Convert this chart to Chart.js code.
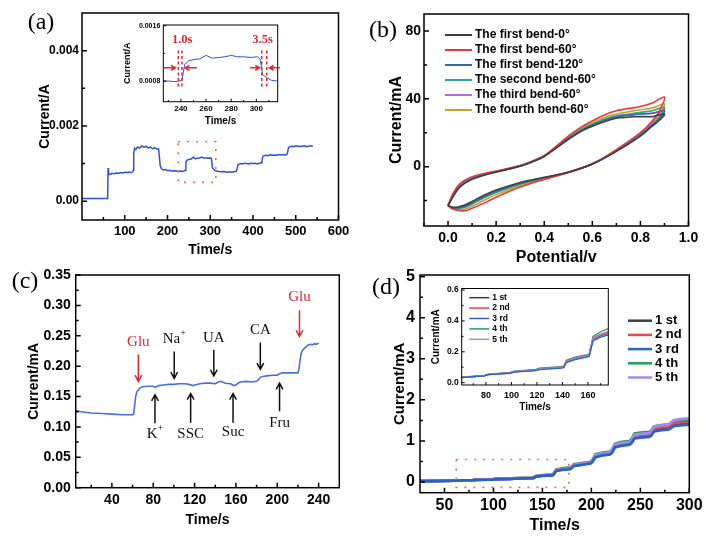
<!DOCTYPE html>
<html>
<head>
<meta charset="utf-8">
<script src="https://cdn.jsdelivr.net/npm/chart.js@4.4.1/dist/chart.umd.min.js"></script>
<style>
  html, body { margin: 0; padding: 0; background: #fff; }
  #wrap { position: relative; width: 713px; height: 541px; overflow: hidden; }
  canvas { position: absolute; left: 0; top: 0; }
</style>
</head>
<body>
<div id="wrap">
  <canvas id="ca" width="713" height="541"></canvas>
  <canvas id="cai" width="713" height="541"></canvas>
  <canvas id="cb" width="713" height="541"></canvas>
  <canvas id="cc" width="713" height="541"></canvas>
  <canvas id="cd" width="713" height="541"></canvas>
  <canvas id="cdi" width="713" height="541"></canvas>
</div>
<script>
// ---- (a) amperometric steps ----
const timeA = [
  0, 30, 60, 61, 62, 64, 67, 70, 75, 80, 85, 90, 95, 100, 105, 110, 115, 119,
  120, 121, 123, 126, 130, 135, 140, 145, 150, 155, 160, 165, 170, 175, 179,
  181, 183, 186, 190, 195, 200, 205, 210, 215, 220, 225, 230, 235, 239,
  241, 243, 246, 250, 255, 260, 265, 270, 275, 280, 285, 290, 295, 301,
  303, 305, 308, 312, 316, 320, 325, 330, 335, 340, 345, 350, 355, 361,
  363, 365, 368, 372, 376, 380, 385, 390, 395, 400, 405, 410, 415, 419,
  421, 423, 426, 430, 435, 440, 445, 450, 455, 460, 465, 470, 475, 479,
  481, 483, 486, 490, 495, 500, 505, 510, 515, 520, 525, 530, 535, 540
];
const currentA = [
  0.00007, 0.00007, 0.00007, 0.00088, 0.00070, 0.00072, 0.00071, 0.00074, 0.00073, 0.00075, 0.00074, 0.00076, 0.00075, 0.00077, 0.00076, 0.00077, 0.00076, 0.00078,
  0.00082, 0.00128, 0.00141, 0.00137, 0.00144, 0.00141, 0.00147, 0.00143, 0.00146, 0.00141, 0.00144, 0.00139, 0.00142, 0.00138, 0.00139,
  0.00118, 0.00094, 0.00086, 0.00083, 0.00084, 0.00081, 0.00082, 0.00080, 0.00081, 0.00080, 0.00079, 0.00080, 0.00079, 0.00080,
  0.00082, 0.00104, 0.00109, 0.00111, 0.00112, 0.00117, 0.00113, 0.00114, 0.00115, 0.00117, 0.00115, 0.00115, 0.00114, 0.00115,
  0.00112, 0.00089, 0.00085, 0.00081, 0.00080, 0.00079, 0.00078, 0.00079, 0.00078, 0.00077, 0.00078, 0.00077, 0.00078, 0.00079,
  0.00088, 0.00097, 0.00099, 0.00100, 0.00099, 0.00101, 0.00100, 0.00099, 0.00101, 0.00100, 0.00101, 0.00099, 0.00101, 0.00102,
  0.00107, 0.00119, 0.00121, 0.00122, 0.00121, 0.00123, 0.00122, 0.00123, 0.00122, 0.00124, 0.00123, 0.00124, 0.00123, 0.00124,
  0.00130, 0.00142, 0.00145, 0.00146, 0.00145, 0.00147, 0.00146, 0.00145, 0.00146, 0.00147, 0.00145, 0.00146, 0.00147, 0.00146
];
const xTicksA = [100, 200, 300, 400, 500, 600];
const yTicksA = [0, 0.002, 0.004];
const yLabelsA = ["0.00", "0.002", "0.004"];
const xTicksAi = [240, 260, 280, 300];
const yTicksAi = [0.0008, 0.0016];

// ---- (b) cyclic voltammetry after bending ----
const potentialB = [0, 0.02, 0.05, 0.1, 0.15, 0.2, 0.3, 0.35, 0.4, 0.45, 0.5, 0.55, 0.6, 0.65, 0.7, 0.8, 0.85, 0.9,
  0.88, 0.85, 0.8, 0.7, 0.6, 0.5, 0.4, 0.3, 0.2, 0.15, 0.1, 0.07, 0.04, 0.02, 0];
const bendLabels = ["The first bend-0°", "The first bend-60°", "The first bend-120°",
  "The second bend-60°", "The third bend-60°", "The fourth bend-60°"];
const bend1_0 = [-23, -18, -12, -7.5, -5, -3.2, 0.3, 2.8, 6, 11, 16, 20.5, 23.8, 26.5, 28.5, 29.5, 29.5, 31,
  27.5, 24, 18, 9, 1.5, -3.3, -6.3, -9.3, -13.8, -16.8, -20.5, -22.6, -23.8, -24, -23];
const bend1_60 = [-23, -16, -10, -6, -4, -2.6, 0.6, 3.2, 6.5, 12, 18, 23, 27, 30.5, 33, 35.5, 37.5, 41,
  33, 27, 20, 10, 1.5, -3.5, -7.5, -12, -18, -21.5, -24.5, -26, -25.8, -25, -23];
const bend1_120 = [-23, -17.5, -11.5, -7, -4.8, -3, 0.4, 3, 6.2, 11.3, 16.3, 21, 24.3, 27.2, 29.2, 31, 31.5, 33,
  28.5, 24.5, 18.5, 9.3, 1.6, -3.3, -6.5, -9.8, -14.5, -17.5, -21.3, -23.3, -24.2, -24.2, -23];
const bend2_60 = [-23, -17, -11, -6.8, -4.5, -2.9, 0.5, 3, 6.3, 11.5, 16.8, 21.5, 25, 28, 30, 32, 33, 35,
  29.5, 25, 19, 9.6, 1.6, -3.4, -6.8, -10.3, -15.2, -18.3, -22, -24, -24.8, -24.6, -23];
const bend3_60 = [-23, -17, -11.2, -7, -4.6, -3, 0.4, 3, 6.2, 11.2, 16.5, 21.2, 24.6, 27.5, 29.6, 31, 31.5, 33.5,
  32, 26.5, 19, 9.5, 1.6, -3.3, -6.7, -10, -15, -18, -21.8, -23.8, -24.6, -24.5, -23];
const bend4_60 = [-23, -17, -11, -6.7, -4.4, -2.8, 0.5, 3.1, 6.4, 11.8, 17.3, 22.2, 25.8, 29, 31, 33.5, 34.5, 37,
  31, 26, 19.5, 10, 1.8, -3.3, -7.2, -11.2, -16.5, -19.8, -23.2, -25, -25.4, -24.8, -23];
const xTicksB = [0, 0.2, 0.4, 0.6, 0.8, 1.0];
const yTicksB = [0, 40, 80];

// ---- (c) interference test ----
const timeC = [5, 10, 20, 30, 40, 50, 60, 61, 62, 63, 64, 66, 68, 70, 75, 80, 82, 85, 90, 95,
  100, 105, 110, 115, 118, 120, 125, 130, 135, 140, 143, 145, 150, 155, 158, 160, 163, 165, 170, 175,
  180, 182, 184, 186, 190, 195, 200, 203, 205, 210, 215, 220, 221, 222, 223, 224, 226, 228, 230, 232,
  234, 236, 238, 240];
const currentC = [0.127, 0.125, 0.123, 0.122, 0.121, 0.120, 0.120, 0.121, 0.135, 0.150, 0.157, 0.162, 0.165, 0.166, 0.167, 0.167, 0.165, 0.168, 0.169, 0.170,
  0.170, 0.171, 0.171, 0.170, 0.168, 0.169, 0.171, 0.172, 0.172, 0.171, 0.174, 0.175, 0.172, 0.171, 0.168, 0.169, 0.173, 0.174, 0.175, 0.174,
  0.175, 0.178, 0.182, 0.183, 0.184, 0.185, 0.185, 0.188, 0.189, 0.189, 0.189, 0.189, 0.195, 0.210, 0.220, 0.225, 0.229, 0.232, 0.235, 0.236,
  0.235, 0.237, 0.236, 0.238];
const xTicksC = [40, 80, 120, 160, 200, 240];
const yTicksC = [0, 0.05, 0.1, 0.15, 0.2, 0.25, 0.3, 0.35];
const markersC = [
  { text: "Glu", x: 65.6, ty: 0.239, from: 0.219, to: 0.175, red: true },
  { text: "Na", sup: "+", x: 100.3, ty: 0.245, from: 0.224, to: 0.180 },
  { text: "UA", x: 138.6, ty: 0.247, from: 0.227, to: 0.184 },
  { text: "CA", x: 183.6, ty: 0.260, from: 0.239, to: 0.195 },
  { text: "Glu", x: 221.5, ty: 0.314, from: 0.292, to: 0.249, red: true },
  { text: "K", sup: "+", x: 81.7, ty: 0.089, from: 0.106, to: 0.153 },
  { text: "SSC", x: 116.2, ty: 0.089, from: 0.107, to: 0.155 },
  { text: "Suc", x: 157.2, ty: 0.091, from: 0.107, to: 0.155 },
  { text: "Fru", x: 202.2, ty: 0.106, from: 0.126, to: 0.172 }
];

// ---- (d) repeatability, five runs ----
const timeD = [25, 40, 60, 79, 82, 99, 102, 119, 122, 139, 141, 143, 150, 159, 161, 164, 170, 176, 179, 182, 190,
  199, 201, 204, 210, 219, 221, 224, 230, 239, 241, 244, 250, 259, 261, 264, 270, 279, 281, 284, 290, 300];
const runLabels = ["1 st", "2 nd", "3 rd", "4 th", "5 th"];
const run1 = [0.02, 0.025, 0.033, 0.045, 0.053, 0.062, 0.07, 0.08, 0.088, 0.097, 0.1, 0.135, 0.155, 0.17, 0.175, 0.28, 0.305, 0.32, 0.33, 0.4, 0.43,
  0.46, 0.5, 0.62, 0.66, 0.69, 0.73, 0.86, 0.9, 0.93, 0.97, 1.08, 1.1, 1.12, 1.15, 1.25, 1.28, 1.3, 1.33, 1.38, 1.4, 1.42];
const run2 = [0.02, 0.026, 0.034, 0.046, 0.055, 0.064, 0.072, 0.082, 0.09, 0.1, 0.103, 0.14, 0.16, 0.175, 0.18, 0.29, 0.315, 0.33, 0.34, 0.41, 0.44,
  0.47, 0.51, 0.64, 0.68, 0.71, 0.75, 0.89, 0.93, 0.96, 1.0, 1.12, 1.14, 1.16, 1.19, 1.3, 1.33, 1.35, 1.38, 1.43, 1.45, 1.46];
const run3 = [0.02, 0.024, 0.032, 0.044, 0.052, 0.06, 0.068, 0.078, 0.085, 0.094, 0.097, 0.13, 0.15, 0.165, 0.17, 0.27, 0.295, 0.31, 0.32, 0.39, 0.42,
  0.45, 0.49, 0.6, 0.64, 0.67, 0.71, 0.84, 0.88, 0.91, 0.95, 1.06, 1.08, 1.1, 1.13, 1.23, 1.26, 1.28, 1.31, 1.36, 1.38, 1.4];
const run4 = [0.021, 0.027, 0.035, 0.047, 0.056, 0.066, 0.075, 0.086, 0.094, 0.104, 0.107, 0.145, 0.165, 0.18, 0.185, 0.3, 0.33, 0.35, 0.355, 0.43, 0.46,
  0.49, 0.53, 0.67, 0.71, 0.74, 0.78, 0.93, 0.97, 1.0, 1.05, 1.18, 1.2, 1.22, 1.25, 1.35, 1.38, 1.4, 1.43, 1.48, 1.5, 1.52];
const run5 = [0.02, 0.025, 0.033, 0.045, 0.054, 0.063, 0.071, 0.081, 0.089, 0.098, 0.101, 0.138, 0.158, 0.172, 0.177, 0.285, 0.31, 0.325, 0.335, 0.41, 0.44,
  0.47, 0.51, 0.65, 0.69, 0.72, 0.76, 0.91, 0.95, 0.98, 1.02, 1.15, 1.17, 1.19, 1.23, 1.35, 1.38, 1.4, 1.44, 1.5, 1.53, 1.55];
const xTicksD = [50, 100, 150, 200, 250, 300];
const yTicksD = [0, 1, 2, 3, 4, 5];
const xTicksDi = [80, 100, 120, 140, 160];
const yTicksDi = [0, 0.2, 0.4, 0.6];

const SANS = "'Liberation Sans', Arial, sans-serif";
const SERIF = "'Liberation Serif', 'Times New Roman', serif";
const RED = "#e4252b";

Chart.defaults.font.family = SANS;
Chart.defaults.font.weight = "bold";
Chart.defaults.color = "#000";
Chart.defaults.animation = false;
Chart.defaults.events = [];
Chart.defaults.plugins.legend.display = false;
Chart.defaults.plugins.tooltip.enabled = false;

const pts = (xs, ys) => xs.map((x, i) => ({ x: x, y: ys[i] }));

function axis(o) {
  return {
    type: "linear",
    min: o.min,
    max: o.max,
    grid: { display: false, drawTicks: false },
    border: { display: false },
    afterBuildTicks: s => { s.ticks = o.ticks.map(v => ({ value: v })); },
    afterFit: s => { if (o.horiz) s.height = o.fit; else s.width = o.fit; },
    ticks: {
      autoSkip: false, maxRotation: 0, padding: o.pad, color: "#000",
      font: { size: o.size, weight: "bold" },
      callback: o.fmt
    },
    title: {
      display: true, text: o.title, color: "#000", padding: 0,
      font: { size: o.tsize, weight: "bold" }
    }
  };
}

// box around the plot with inward ticks on left and bottom
function frame(minorX, minorY, len, fill) {
  return {
    id: "frame",
    beforeDraw(chart) {
      if (!fill) return;
      const { ctx, chartArea: a } = chart;
      ctx.save();
      ctx.fillStyle = "#fff";
      ctx.fillRect(a.left, a.top, a.right - a.left, a.bottom - a.top);
      ctx.restore();
    },
    afterDraw(chart) {
      const { ctx, chartArea: a, scales: { x, y } } = chart;
      ctx.save();
      ctx.strokeStyle = "#000";
      ctx.lineWidth = len > 3 ? 1.5 : 1;
      ctx.strokeRect(a.left, a.top, a.right - a.left, a.bottom - a.top);
      ctx.beginPath();
      const tx = (v, l) => { const p = x.getPixelForValue(v); ctx.moveTo(p, a.bottom); ctx.lineTo(p, a.bottom - l); };
      const ty = (v, l) => { const p = y.getPixelForValue(v); ctx.moveTo(a.left, p); ctx.lineTo(a.left + l, p); };
      x.ticks.forEach(t => tx(t.value, len));
      minorX.forEach(v => tx(v, len * 0.6));
      y.ticks.forEach(t => ty(t.value, len));
      minorY.forEach(v => ty(v, len * 0.6));
      ctx.stroke();
      ctx.restore();
    }
  };
}

function letter(txt, x, y) {
  return {
    id: "letter",
    afterDraw(chart) {
      const ctx = chart.ctx;
      ctx.save();
      ctx.font = "24px " + SERIF;
      ctx.fillStyle = "#000";
      ctx.textAlign = "center";
      ctx.textBaseline = "middle";
      ctx.fillText(txt, x, y);
      ctx.restore();
    }
  };
}

function dashBox(x1, x2, y1, y2) {
  return {
    id: "dashBox",
    afterDatasetsDraw(chart) {
      const { ctx, scales: { x, y } } = chart;
      const l = x.getPixelForValue(x1), r = x.getPixelForValue(x2);
      const t = y.getPixelForValue(y2), b = y.getPixelForValue(y1);
      ctx.save();
      ctx.strokeStyle = "#e66a6a";
      ctx.lineWidth = 1.6;
      ctx.setLineDash([2, 7]);
      ctx.strokeRect(l, t, r - l, b - t);
      ctx.restore();
    }
  };
}

function boxLegend(x0, y0, gap, len, size, lw) {
  return {
    id: "boxLegend",
    afterDraw(chart) {
      const ctx = chart.ctx;
      ctx.save();
      ctx.font = "bold " + size + "px " + SANS;
      ctx.textBaseline = "middle";
      ctx.textAlign = "left";
      ctx.fillStyle = "#000";
      chart.data.datasets.forEach((d, i) => {
        const y = y0 + i * gap;
        ctx.strokeStyle = d.borderColor;
        ctx.lineWidth = lw;
        ctx.beginPath();
        ctx.moveTo(x0, y);
        ctx.lineTo(x0 + len, y);
        ctx.stroke();
        ctx.fillText(d.label, x0 + len + 3, y);
      });
      ctx.restore();
    }
  };
}

function arrow(ctx, x1, y1, x2, y2, head) {
  const ang = Math.atan2(y2 - y1, x2 - x1);
  ctx.beginPath();
  ctx.moveTo(x1, y1);
  ctx.lineTo(x2, y2);
  ctx.moveTo(x2 - head * Math.cos(ang - 0.5), y2 - head * Math.sin(ang - 0.5));
  ctx.lineTo(x2, y2);
  ctx.lineTo(x2 - head * Math.cos(ang + 0.5), y2 - head * Math.sin(ang + 0.5));
  ctx.stroke();
}

// (a) main
new Chart(document.getElementById("ca"), {
  type: "line",
  data: { datasets: [{ data: pts(timeA, currentA), borderColor: "#2f52d3", borderWidth: 1.5, pointRadius: 0 }] },
  options: {
    responsive: false,
    layout: { padding: { left: 36.6, top: 13, right: 374.5, bottom: 282.6 } },
    scales: {
      x: axis({ min: 0, max: 600, ticks: xTicksA, fmt: v => v, size: 13, pad: 4, title: "Time/s", tsize: 14, fit: 38.4, horiz: true }),
      y: axis({ min: -0.0005, max: 0.005, ticks: yTicksA, fmt: (v, i) => yLabelsA[i], size: 12, pad: 3, title: "Current/A", tsize: 14, fit: 45.4 })
    }
  },
  plugins: [frame([50, 150, 250, 350, 450, 550], [0.001, 0.003], 5), letter("(a)", 41, 23), dashBox(225, 313, 0.0005, 0.00158)]
});

// (a) inset with response-time marks
const responseMarks = {
  id: "responseMarks",
  afterDraw(chart) {
    const { ctx, scales: { x, y } } = chart;
    ctx.save();
    ctx.fillStyle = RED;
    ctx.strokeStyle = RED;
    ctx.font = "bold 12.5px " + SERIF;
    ctx.textAlign = "center";
    ctx.textBaseline = "middle";
    ctx.fillText("1.0s", x.getPixelForValue(241), y.getPixelForValue(0.00139));
    ctx.fillText("3.5s", x.getPixelForValue(305), y.getPixelForValue(0.00139));
    ctx.lineWidth = 1.5;
    ctx.setLineDash([3, 2.5]);
    ctx.beginPath();
    [238, 240.8, 304.3, 308.3].forEach(v => {
      const p = x.getPixelForValue(v);
      ctx.moveTo(p, y.getPixelForValue(0.00124));
      ctx.lineTo(p, y.getPixelForValue(0.00071));
    });
    ctx.stroke();
    ctx.setLineDash([]);
    const ay = y.getPixelForValue(0.00099);
    [[225.8, 235.6], [252.6, 243.3], [295, 302.6], [318.8, 310.3]].forEach(a => {
      arrow(ctx, x.getPixelForValue(a[0]), ay, x.getPixelForValue(a[1]), ay, 5);
    });
    ctx.restore();
  }
};

new Chart(document.getElementById("cai"), {
  type: "line",
  data: { datasets: [{ data: pts(timeA, currentA), borderColor: "#2f52d3", borderWidth: 1, pointRadius: 0 }] },
  options: {
    responsive: false,
    layout: { padding: { left: 122.3, top: 25, right: 435.3, bottom: 413.7 } },
    scales: {
      x: axis({ min: 226, max: 317, ticks: xTicksAi, fmt: v => v, size: 8, pad: 2, title: "Time/s", tsize: 10, fit: 25.6, horiz: true }),
      y: axis({ min: 0.0005, max: 0.00161, ticks: yTicksAi, fmt: v => v.toFixed(4), size: 7, pad: 3, title: "Current/A", tsize: 9, fit: 41 })
    }
  },
  plugins: [frame([230, 250, 270, 290, 310], [0.0012], 3, true), responseMarks]
});

// (b)
const bendColors = ["#3f3f3f", "#e8373c", "#3368b0", "#2fa37a", "#b46ae6", "#c9a229"];
const bendSeries = [bend1_0, bend1_60, bend1_120, bend2_60, bend3_60, bend4_60];
new Chart(document.getElementById("cb"), {
  type: "scatter",
  data: {
    datasets: bendSeries.map((s, i) => ({
      label: bendLabels[i], data: pts(potentialB, s), showLine: true, tension: 0.35,
      borderColor: bendColors[i], borderWidth: 1.6, pointRadius: 0
    }))
  },
  options: {
    responsive: false,
    layout: { padding: { left: 387.1, top: 14, right: 24.5, bottom: 273.4 } },
    scales: {
      x: axis({ min: -0.1, max: 1.0, ticks: xTicksB, fmt: v => v.toFixed(1), size: 14, pad: 4, title: "Potential/v", tsize: 16, fit: 41.6, horiz: true }),
      y: axis({ min: -35, max: 90, ticks: yTicksB, fmt: v => v, size: 14, pad: 3, title: "Current/mA", tsize: 16, fit: 36.9 })
    }
  },
  plugins: [frame([-0.1, 0.1, 0.3, 0.5, 0.7, 0.9], [-20, 20, 60], 5), letter("(b)", 383, 31), boxLegend(445, 35, 15, 27, 12, 2)]
});

// (c)
const markerPlugin = {
  id: "markers",
  afterDatasetsDraw(chart) {
    const { ctx, scales: { x, y } } = chart;
    ctx.save();
    ctx.textBaseline = "middle";
    ctx.textAlign = "left";
    markersC.forEach(m => {
      const px = x.getPixelForValue(m.x);
      const col = m.red ? RED : "#111";
      ctx.fillStyle = col;
      ctx.strokeStyle = col;
      ctx.lineWidth = 1.5;
      arrow(ctx, px, y.getPixelForValue(m.from), px, y.getPixelForValue(m.to), 7);
      ctx.font = "15px " + SERIF;
      const w = ctx.measureText(m.text).width;
      ctx.font = "10px " + SERIF;
      const ws = m.sup ? ctx.measureText(m.sup).width : 0;
      const left = px - (w + ws) / 2;
      const ty = y.getPixelForValue(m.ty);
      ctx.font = "15px " + SERIF;
      ctx.fillText(m.text, left, ty);
      if (m.sup) {
        ctx.font = "10px " + SERIF;
        ctx.fillText(m.sup, left + w, ty - 5);
      }
    });
    ctx.restore();
  }
};

new Chart(document.getElementById("cc"), {
  type: "line",
  data: { datasets: [{ data: pts(timeC, currentC), borderColor: "#4a6ee0", borderWidth: 1.6, pointRadius: 0 }] },
  options: {
    responsive: false,
    layout: { padding: { left: 25.5, top: 275, right: 373.7, bottom: 12.7 } },
    scales: {
      x: axis({ min: 5, max: 260, ticks: xTicksC, fmt: v => v, size: 14, pad: 4, title: "Time/s", tsize: 14, fit: 40.6, horiz: true }),
      y: axis({ min: 0, max: 0.35, ticks: yTicksC, fmt: v => v.toFixed(2), size: 14, pad: 5, title: "Current/mA", tsize: 14, fit: 50.2 })
    }
  },
  plugins: [frame([20, 60, 100, 140, 180, 220], [0.025, 0.075, 0.125, 0.175, 0.225, 0.275, 0.325], 5), letter("(c)", 25, 282), markerPlugin]
});

// (d)
const runColors = ["#3d3d3d", "#e5484d", "#2a62c9", "#1f9e5a", "#a48be8"];
const runOrder = [4, 2, 0, 3, 1];
const runSeries = [run1, run2, run3, run4, run5];
new Chart(document.getElementById("cd"), {
  type: "line",
  data: {
    datasets: runSeries.map((s, i) => ({
      label: runLabels[i], data: pts(timeD, s), borderColor: runColors[i], borderWidth: 2.8, pointRadius: 0, order: runOrder[i]
    }))
  },
  options: {
    responsive: false,
    layout: { padding: { left: 391, top: 275, right: 23.7, bottom: 5.7 } },
    scales: {
      x: axis({ min: 25, max: 300, ticks: xTicksD, fmt: v => v, size: 16, pad: 3, title: "Time/s", tsize: 16, fit: 42.6, horiz: true }),
      y: axis({ min: -0.26, max: 5.04, ticks: yTicksD, fmt: v => v, size: 16, pad: 5, title: "Current/mA", tsize: 15, fit: 29 })
    }
  },
  plugins: [frame([75, 125, 175, 225, 275], [0.5, 1.5, 2.5, 3.5, 4.5], 5), letter("(d)", 386, 288),
    dashBox(62, 177, -0.13, 0.55), boxLegend(628, 320.7, 14.2, 24, 13, 2.5)]
});

new Chart(document.getElementById("cdi"), {
  type: "line",
  data: {
    datasets: runSeries.map((s, i) => ({
      label: runLabels[i], data: pts(timeD, s), borderColor: runColors[i], borderWidth: 1.3, pointRadius: 0, order: runOrder[i]
    }))
  },
  options: {
    responsive: false,
    layout: { padding: { left: 430.7, top: 288.5, right: 104.7, bottom: 127.7 } },
    scales: {
      x: axis({ min: 61, max: 176, ticks: xTicksDi, fmt: v => v, size: 9, pad: 5, title: "Time/s", tsize: 10, fit: 28.3, horiz: true }),
      y: axis({ min: -0.015, max: 0.61, ticks: yTicksDi, fmt: v => v.toFixed(1), size: 8.5, pad: 3, title: "Current/mA", tsize: 10, fit: 31 })
    }
  },
  plugins: [frame([70, 90, 110, 130, 150, 170], [0.1, 0.3, 0.5], 3, true), boxLegend(469.3, 297.7, 10.4, 20, 8.5, 1.5)]
});
</script>
</body>
</html>
